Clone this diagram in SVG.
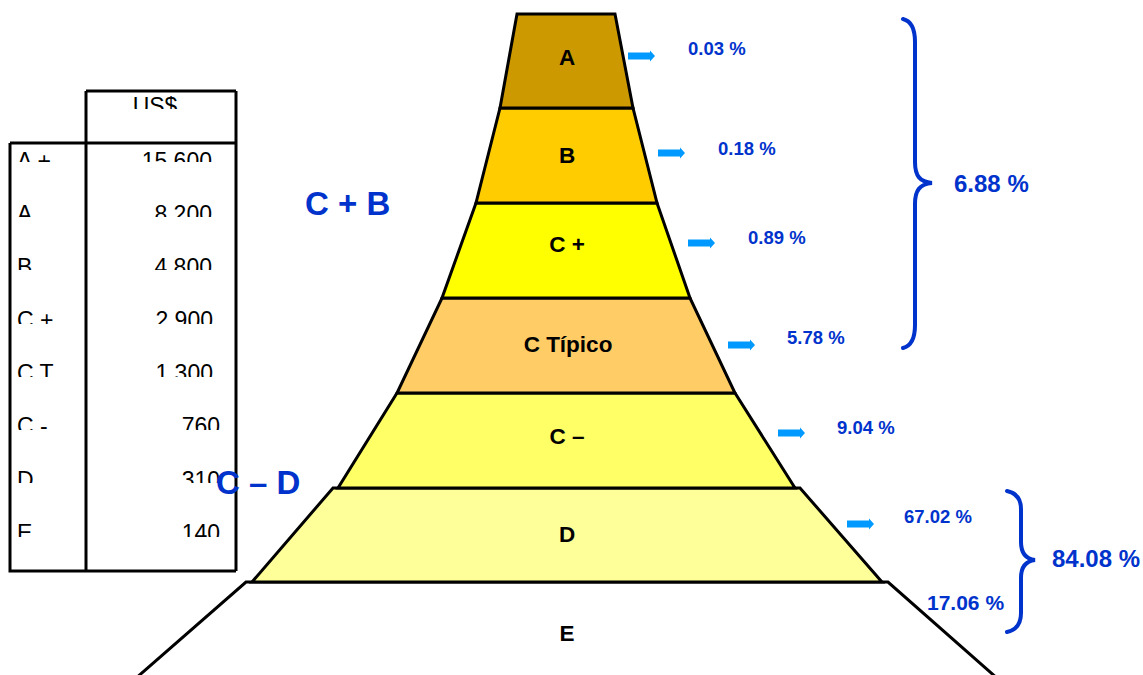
<svg xmlns="http://www.w3.org/2000/svg" width="1143" height="675" viewBox="0 0 1143 675">
<style>
.tb{fill:none;stroke:#000;stroke-width:3}
.tt{font-family:"Liberation Sans",Arial,sans-serif;font-size:23px;fill:#000}
.lay{stroke:#000;stroke-width:3;stroke-linejoin:miter}
.lbl{font-family:"Liberation Sans",Arial,sans-serif;font-size:22.5px;font-weight:bold;fill:#000;text-anchor:middle}
.pct{font-family:"Liberation Sans",Arial,sans-serif;font-size:18.5px;font-weight:bold;fill:#0033CC}
.big{font-family:"Liberation Sans",Arial,sans-serif;font-size:24px;font-weight:bold;fill:#0033CC}
.grp{font-family:"Liberation Sans",Arial,sans-serif;font-size:33px;font-weight:bold;fill:#0033CC}
.arr{fill:#0099FF}
.brace{fill:none;stroke:#0033CC;stroke-width:4;stroke-linecap:round}
</style>
<defs>
<clipPath id="tclip">
<rect x="0" y="90" width="240" height="19"/>
<rect x="0" y="146" width="240" height="16"/>
<rect x="0" y="199" width="240" height="18"/>
<rect x="0" y="252" width="240" height="18"/>
<rect x="0" y="305" width="240" height="19"/>
<rect x="0" y="358" width="240" height="19"/>
<rect x="0" y="411" width="240" height="19"/>
<rect x="0" y="464" width="240" height="19"/>
<rect x="0" y="517" width="240" height="20"/>
</clipPath>
<path id="arrow" d="M0,-3.5 H22 V-5.5 L27,0 L22,5.5 V3.5 H0 Z"/>
</defs>

<g id="table">
<path class="tb" d="M86,91 H236 M10,143 H236 M10,143 V571 H236 M86,91 V571 M236,91 V571"/>
<g clip-path="url(#tclip)">
<text class="tt" x="155" y="113.5" text-anchor="middle">US$</text>
<text class="tt" x="17" y="168.5">A +</text>
<text class="tt" x="17" y="221.5">A</text>
<text class="tt" x="17" y="274.5">B</text>
<text class="tt" x="17" y="328">C +</text>
<text class="tt" x="17" y="380.5">C T</text>
<text class="tt" x="17" y="434">C -</text>
<text class="tt" x="17" y="487.5">D</text>
<text class="tt" x="17" y="540.5">E</text>
<text class="tt" x="212" y="168.5" text-anchor="end">15 600</text>
<text class="tt" x="212" y="221.5" text-anchor="end">8 200</text>
<text class="tt" x="212" y="274.5" text-anchor="end">4 800</text>
<text class="tt" x="213" y="328" text-anchor="end">2 900</text>
<text class="tt" x="213" y="380.5" text-anchor="end">1 300</text>
<text class="tt" x="220" y="434" text-anchor="end">760</text>
<text class="tt" x="220" y="487.5" text-anchor="end">310</text>
<text class="tt" x="220" y="540.5" text-anchor="end">140</text>
</g>
</g>

<g id="layer-E">
<polygon class="lay" fill="#FFFFFF" points="135,679 246,582 888,582 998,679"/>
<text class="lbl" x="567" y="641">E</text>
</g>
<g id="layer-D">
<polygon class="lay" fill="#FFFF99" points="333,488 800,488 882,582 252,582"/>
<text class="lbl" x="567" y="542">D</text>
</g>
<g id="layer-Cminus">
<polygon class="lay" fill="#FFFF66" points="397,393 735,393 795,488 338,488"/>
<text class="lbl" x="567" y="444">C –</text>
</g>
<g id="layer-Ctipico">
<polygon class="lay" fill="#FFCC66" points="442,298 690,298 735,393 397,393"/>
<text class="lbl" x="568" y="352">C Típico</text>
</g>
<g id="layer-Cplus">
<polygon class="lay" fill="#FFFF00" points="476,203 657,203 690,298 442,298"/>
<text class="lbl" x="567" y="252">C +</text>
</g>
<g id="layer-B">
<polygon class="lay" fill="#FFCC00" points="500,108 633,108 657,203 476,203"/>
<text class="lbl" x="567" y="163">B</text>
</g>
<g id="layer-A">
<polygon class="lay" fill="#CC9900" points="517,14 615,14 633,108 500,108"/>
<text class="lbl" x="567" y="65">A</text>
</g>

<g id="connectors">
<use href="#arrow" class="arr" x="628" y="56"/>
<use href="#arrow" class="arr" x="658" y="153"/>
<use href="#arrow" class="arr" x="688" y="243"/>
<use href="#arrow" class="arr" x="728" y="345"/>
<use href="#arrow" class="arr" x="778" y="433"/>
<use href="#arrow" class="arr" x="847" y="524"/>
<path class="brace" d="M903,19 C911,21 915,28 915,42 V162 C915,176 920,182 932,183 C920,184 915,190 915,204 V325 C915,339 911,346 903,348"/>
<path class="brace" d="M1007,491 C1016,493 1021,499 1021,509 V542 C1021,553 1026,559 1035,560 C1026,561 1021,567 1021,578 V613 C1021,624 1016,630 1007,632"/>
</g>

<g id="labels">
<text class="pct" x="688" y="55">0.03 %</text>
<text class="pct" x="718" y="155">0.18 %</text>
<text class="pct" x="748" y="244">0.89 %</text>
<text class="pct" x="787" y="344">5.78 %</text>
<text class="pct" x="837" y="434">9.04 %</text>
<text class="pct" x="904" y="523">67.02 %</text>
<text class="pct" x="927" y="610" style="font-size:21px">17.06 %</text>
<text class="big" x="954" y="192">6.88 %</text>
<text class="big" x="1052" y="567">84.08 %</text>
<text class="grp" x="305" y="215">C + B</text>
<text class="grp" x="216" y="494">C – D</text>
</g>
</svg>
